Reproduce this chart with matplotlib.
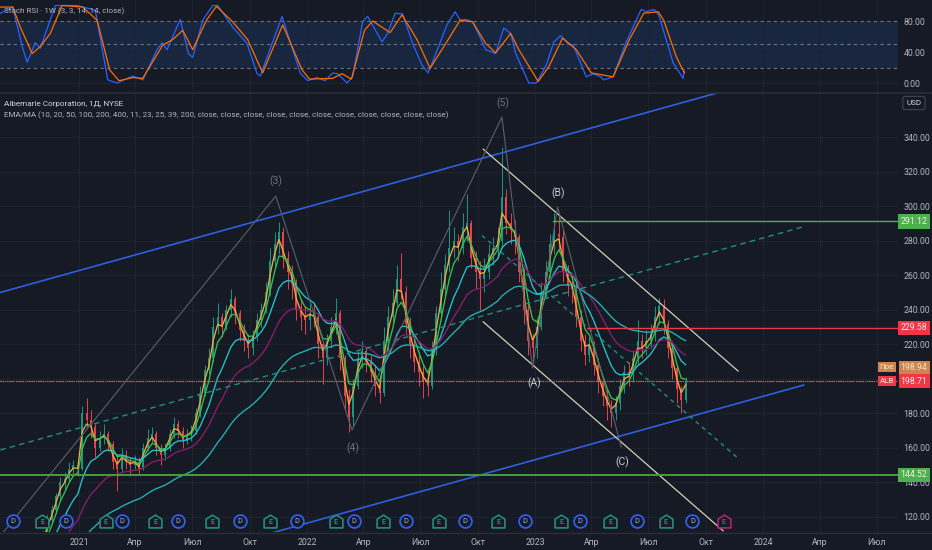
import matplotlib
matplotlib.use("Agg")
import matplotlib.pyplot as plt
import matplotlib.dates as mdates
from matplotlib.transforms import blended_transform_factory
from matplotlib.path import Path
import numpy as np
import pandas as pd

plt.rcParams['font.family'] = ['Roboto', 'DejaVu Sans']

# ---------------- data ----------------
# weekly closes before the visible range (only used for EMA warm-up), from 2020-01-03
warm_closes = [72, 74, 76, 72, 70, 78, 80, 82, 76, 68, 60, 52, 56, 58, 62, 60, 62,
               62, 64, 60, 66, 62, 72, 74, 78, 78, 80, 82, 84, 86, 82, 88, 92, 94, 96,
               92, 90, 88, 90]
# weekly candles from 2020-10-02 (Fridays)
closes = [96, 100, 102, 98, 96, 110, 118, 124, 132, 140, 142, 148, 150,
          148, 180, 176, 172, 160, 166, 168, 162, 152, 148, 156, 152, 150, 152, 148, 160, 166, 168,
          160, 156, 160, 168, 174, 170, 164, 168, 170, 180, 192, 205, 212, 230, 236, 230, 240,
          246, 238, 228, 222, 218, 225, 234, 240, 250, 268, 278, 285, 270, 262, 255, 240, 236, 234,
          238, 236, 220, 212, 222, 230, 238, 212, 190, 178, 196, 212, 216, 210, 204, 196, 192,
          222, 236, 244, 258, 250, 232, 220, 210, 204, 198, 196, 218, 238, 252, 266, 276, 280,
          276, 288, 290, 270, 262, 258, 262, 272, 276, 280, 305, 290, 286, 282, 262, 240, 222, 218,
          230, 250, 262, 278, 284, 282, 262, 254, 252, 236, 222, 214, 220, 208, 198, 190, 184,
          180, 186, 196, 204, 202, 212, 222, 218, 222, 226, 236, 242, 232, 218, 206, 194, 188, 198.71]
highs = [98, 102, 105, 104, 100, 112, 121, 127, 134, 143, 146, 152, 153,
         152, 184, 189, 182, 174, 170, 174, 170, 164, 156, 160, 159, 155, 156, 155, 163, 171, 172,
         170, 162, 163, 171, 178, 176, 172, 171, 173, 183, 196, 208, 218, 236, 244, 238, 243,
         252, 248, 240, 232, 226, 228, 238, 244, 256, 276, 285, 291, 288, 274, 266, 258, 246, 242,
         246, 244, 238, 222, 226, 236, 247, 240, 214, 194, 200, 216, 222, 218, 214, 208, 200,
         230, 242, 252, 266, 273, 254, 236, 224, 214, 208, 204, 222, 242, 262, 272, 298, 288,
         284, 296, 307, 292, 274, 268, 270, 278, 282, 288, 334, 310, 296, 292, 284, 264, 244, 226,
         234, 256, 268, 284, 296, 294, 286, 266, 260, 256, 240, 226, 224, 222, 212, 200, 194,
         188, 190, 200, 208, 210, 216, 234, 226, 228, 232, 242, 247, 246, 234, 222, 208, 196, 201]
lows = [89, 94, 98, 96, 92, 95, 108, 116, 122, 130, 136, 140, 145,
        144, 147, 172, 166, 155, 158, 162, 158, 148, 135, 146, 148, 145, 148, 145, 147, 158, 163,
        156, 150, 153, 158, 166, 166, 160, 162, 164, 168, 178, 190, 203, 210, 226, 224, 228,
        236, 232, 222, 216, 212, 214, 222, 230, 238, 248, 264, 272, 264, 252, 246, 234, 228, 226,
        228, 230, 212, 197, 208, 218, 226, 205, 182, 169, 172, 194, 206, 204, 198, 190, 186,
        190, 216, 232, 242, 246, 226, 212, 204, 196, 189, 190, 194, 214, 234, 248, 262, 270,
        268, 272, 280, 264, 252, 240, 250, 258, 266, 270, 276, 284, 278, 272, 256, 232, 214, 209,
        212, 228, 246, 258, 272, 274, 256, 248, 244, 230, 216, 208, 210, 202, 192, 184, 176,
        172, 176, 182, 192, 196, 198, 208, 212, 214, 218, 222, 232, 226, 212, 200, 186, 180, 186]

ema_spans_weeks = [2, 4, 10, 20, 40]   # EMA 10/20/50/100/200 days on weekly bars
ema_colors = ['#f2a93b', '#33c24d', '#27c4cf', '#8a1d6a', '#1fb7b3']

# Stoch RSI (1W) vertices
k_dates = ['2020-08-28', '2020-09-17', '2020-10-02', '2020-10-10', '2020-10-23', '2020-10-31',
           '2020-11-24', '2020-12-29', '2021-01-27', '2021-02-16', '2021-03-03', '2021-03-28',
           '2021-04-13', '2021-05-06', '2021-05-14', '2021-05-22', '2021-06-12', '2021-06-25',
           '2021-07-02', '2021-07-18', '2021-08-03', '2021-08-11', '2021-09-04', '2021-09-27',
           '2021-10-13', '2021-10-18', '2021-11-22', '2021-12-21', '2022-01-02', '2022-01-17',
           '2022-01-30', '2022-02-11', '2022-02-19', '2022-03-06', '2022-03-15', '2022-03-31',
           '2022-04-08', '2022-05-01', '2022-05-10', '2022-05-22', '2022-06-03', '2022-06-19',
           '2022-07-04', '2022-07-14', '2022-08-13', '2022-08-26', '2022-09-03', '2022-09-12',
           '2022-09-23', '2022-10-02', '2022-10-14', '2022-10-30', '2022-11-12', '2022-11-23',
           '2022-12-01', '2022-12-22', '2023-01-03', '2023-01-19', '2023-01-31', '2023-02-11',
           '2023-02-23', '2023-03-03', '2023-03-24', '2023-04-04', '2023-04-16', '2023-04-21',
           '2023-05-06', '2023-05-27', '2023-06-20', '2023-06-28', '2023-07-10', '2023-07-18',
           '2023-08-10', '2023-08-26', '2023-08-28']
k_vals = [90, 98, 47, 27, 52, 45, 100, 100, 94, 4, 0, 9, 4, 43, 52, 43, 82, 38, 33, 81, 100, 100,
          72, 51, 12, 9, 86, 13, 3, 7, 3, 13, 12, 0, 8, 79, 86, 53, 64, 90, 89, 51, 23, 13, 75,
          92, 81, 82, 79, 64, 43, 38, 71, 64, 38, 0, 0, 23, 53, 61, 51, 49, 8, 12, 8, 4, 8, 53,
          95, 92, 95, 88, 26, 6, 17]
d_dates = ['2020-08-28', '2020-09-17', '2020-09-29', '2020-10-18', '2020-10-31', '2020-11-16',
           '2020-12-05', '2021-01-07', '2021-01-30', '2021-02-19', '2021-03-06', '2021-03-28',
           '2021-04-13', '2021-05-15', '2021-05-31', '2021-06-16', '2021-07-02', '2021-07-24',
           '2021-08-09', '2021-09-04', '2021-09-28', '2021-10-22', '2021-11-23', '2021-12-24',
           '2022-01-05', '2022-02-11', '2022-02-26', '2022-03-13', '2022-04-03', '2022-04-16',
           '2022-05-14', '2022-06-02', '2022-06-26', '2022-07-17', '2022-08-18', '2022-09-03',
           '2022-09-12', '2022-09-23', '2022-10-14', '2022-10-30', '2022-11-23', '2022-12-06',
           '2023-01-06', '2023-01-23', '2023-02-14', '2023-03-08', '2023-04-01', '2023-05-06',
           '2023-06-01', '2023-06-24', '2023-07-17', '2023-07-26', '2023-08-15', '2023-08-28']
d_vals = [98, 98, 72, 38, 47, 64, 100, 98, 81, 17, 3, 7, 6, 49, 56, 68, 43, 81, 99, 79, 56, 13,
          75, 17, 5, 6, 12, 5, 68, 80, 65, 88, 56, 19, 60, 81, 80, 79, 51, 39, 64, 43, 2, 21,
          58, 43, 13, 8, 56, 90, 92, 81, 34, 13]

# drawings (date, price)
channel_upper = [('2020-08-28', 250.0), ('2023-10-26', 366.2)]
channel_lower = [('2021-11-03', 110.5), ('2024-03-06', 196.4)]
trend_dashed_up = [('2020-08-28', 158.8), ('2024-03-05', 288.0)]
trend_dashed_down = [('2022-10-08', 283.0), ('2023-11-22', 154.0)]
down_channel_top = [('2022-10-10', 333.0), ('2023-11-22', 204.5)]
down_channel_bottom = [('2022-10-10', 233.0), ('2023-10-29', 112.0)]
wave_path = [('2020-08-28', 109.0), ('2021-11-12', 305.8), ('2022-03-14', 170.3),
             ('2022-11-09', 351.6), ('2022-12-28', 206.2), ('2023-02-06', 299.5),
             ('2023-05-19', 160.5)]
wave_labels = ['(3)', '(4)', '(5)', '(A)', '(B)', '(C)']
wave_label_pos = [('2021-11-12', 314.5), ('2022-03-15', 160.0), ('2022-11-10', 359.7),
                  ('2022-12-30', 197.6), ('2023-02-07', 307.6), ('2023-05-20', 151.8)]

level_green_top = 291.12
level_green_top_start = '2023-01-29'
level_red = 229.58
level_red_start = '2023-03-25'
level_green_low = 144.52
last_price = 198.71
pre_price = 198.94

div_dates = ['2020-09-17', '2020-12-11', '2021-03-11', '2021-06-08', '2021-09-16', '2021-12-16',
             '2022-03-17', '2022-06-08', '2022-09-11', '2022-12-16', '2023-03-14', '2023-06-13',
             '2023-09-10']
earn_dates = ['2020-11-03', '2021-02-13', '2021-05-03', '2021-08-02', '2021-11-03', '2022-02-16',
              '2022-05-03', '2022-07-31', '2022-11-03', '2023-02-12', '2023-05-01', '2023-07-29']
earn_future = ['2023-10-30']

price_ticks = [120, 140, 160, 180, 200, 220, 240, 260, 280, 300, 320, 340]
hidden_tick = 200   # covered by the last-price labels in the reference
stoch_ticks = [0, 40, 80]
x_tick_dates = ['2021-01-01', '2021-04-01', '2021-07-01', '2021-10-01', '2022-01-01', '2022-04-01',
                '2022-07-01', '2022-10-01', '2023-01-01', '2023-04-01', '2023-07-01', '2023-10-01',
                '2024-01-01', '2024-04-01', '2024-07-01']
x_tick_labels = ['2021', 'Апр', 'Июл', 'Окт', '2022', 'Апр', 'Июл', 'Окт', '2023', 'Апр', 'Июл',
                 'Окт', '2024', 'Апр', 'Июл']

# ---------------- style ----------------
BG = '#161a25'
GRID = '#1f2330'
TXT = '#b2b5be'
UP = '#1a9683'
DN = '#e5424e'

W, H = 932, 550
fig = plt.figure(figsize=(W / 100, H / 100), dpi=100, facecolor=BG)


def px_axes(x0, y0, x1, y1):
    return fig.add_axes([x0 / W, 1 - y1 / H, (x1 - x0) / W, (y1 - y0) / H])


ax_s = px_axes(0, 0, 898, 92)
ax = px_axes(0, 93, 898, 532)

d2n = lambda s: mdates.date2num(pd.Timestamp(s))
x_start = d2n('2020-08-27') + 0.5
xlim = (x_start, x_start + 898 / 0.6247)

for a in (ax_s, ax):
    a.set_facecolor(BG)
    for sp in a.spines.values():
        sp.set_visible(False)
    a.set_xlim(*xlim)
    a.set_xticks([d2n(d) for d in x_tick_dates])
    a.grid(True, color=GRID, lw=0.8, zorder=0)
    a.set_axisbelow(True)
    a.yaxis.tick_right()
    a.tick_params(axis='both', length=0, labelsize=6.3, labelcolor=TXT)

ax_s.set_xticklabels([])
ax.set_xticklabels(x_tick_labels)
ax.tick_params(axis='x', pad=4)
ax.tick_params(axis='y', pad=4)
ax_s.tick_params(axis='y', pad=4)

# ---------------- Stoch RSI ----------------
ax_s.set_ylim(-11.6, 107.1)
ax_s.set_yticks(stoch_ticks)
ax_s.set_yticklabels([f'{v:.2f}' for v in stoch_ticks])
ax_s.axhspan(20, 80, color='#18273f', zorder=0.5, lw=0)
for lvl in (80, 50, 20):
    ax_s.axhline(lvl, color='#6f7380', lw=0.8, dashes=(3, 3), zorder=1)
ax_s.plot([d2n(d) for d in k_dates], k_vals, color='#2962ff', lw=0.9, zorder=3)
ax_s.plot([d2n(d) for d in d_dates], d_vals, color='#ff6d00', lw=0.9, zorder=3)
fig.text(4 / W, 1 - 11 / H, 'Stoch RSI · 1W (3, 3, 14, 14, close)', color=TXT,
         fontsize=5.8, va='center', ha='left')
fig.add_artist(plt.Line2D([0, 1], [1 - 92.5 / H, 1 - 92.5 / H], color='#2a2e39', lw=1.2))

# ---------------- main price ----------------
ax.set_ylim(111.3, 365.5)
ax.set_yticks(price_ticks)
ax.set_yticklabels(['' if v == hidden_tick else f'{v:.2f}' for v in price_ticks])

dates = pd.date_range('2020-10-02', periods=len(closes), freq='W-FRI')
xs = mdates.date2num(dates) - 2
opens = np.array([warm_closes[-1]] + closes[:-1], dtype=float)
c = np.array(closes, dtype=float)
hi = np.maximum(np.array(highs, float), np.maximum(opens, c))
lo = np.minimum(np.array(lows, float), np.minimum(opens, c))
cols = [UP if cc >= oo else DN for oo, cc in zip(opens, c)]
ax.vlines(xs, lo, hi, colors=cols, lw=0.7, zorder=2)
body_lo = np.minimum(opens, c)
body_h = np.maximum(np.abs(c - opens), 0.6)
ax.bar(xs, body_h, bottom=body_lo, width=3.2, color=cols, lw=0, zorder=2)

all_close = pd.Series(warm_closes + closes, dtype=float)
all_dates = pd.date_range('2020-01-03', periods=len(all_close), freq='W-FRI')
all_x = mdates.date2num(all_dates) - 2
for span, col in zip(ema_spans_weeks, ema_colors):
    e = all_close.ewm(span=span, adjust=False).mean()
    ax.plot(all_x, e.values, color=col, lw=0.95, zorder=3)


def seg(pts):
    return [d2n(d) for d, _ in pts], [p for _, p in pts]


xx, yy = seg(channel_upper); ax.plot(xx, yy, color='#2d5fe0', lw=1.2, zorder=4)
xx, yy = seg(channel_lower); ax.plot(xx, yy, color='#2d5fe0', lw=1.2, zorder=4)
xx, yy = seg(trend_dashed_up); ax.plot(xx, yy, color='#1f8f7f', lw=1.0, dashes=(4, 3), zorder=4)
xx, yy = seg(trend_dashed_down); ax.plot(xx, yy, color='#1f8f7f', lw=1.0, dashes=(3, 3), zorder=4)
xx, yy = seg(down_channel_top); ax.plot(xx, yy, color='#d6d0b6', lw=0.9, zorder=4)
xx, yy = seg(down_channel_bottom); ax.plot(xx, yy, color='#d6d0b6', lw=0.9, zorder=4)
xx, yy = seg(wave_path); ax.plot(xx, yy, color='#5b5f6b', lw=0.8, zorder=4)
for lab, (d, p) in zip(wave_labels, wave_label_pos):
    col = '#6e717c' if lab in ('(3)', '(4)', '(5)') else '#c9cbd1'
    ax.text(d2n(d), p, lab, color=col, fontsize=7.5, ha='center', va='center', zorder=5)

ax.plot([d2n(level_green_top_start), xlim[1]], [level_green_top] * 2, color='#4caf50', lw=1.0, zorder=4)
ax.plot([d2n(level_red_start), xlim[1]], [level_red] * 2, color='#f23645', lw=1.0, zorder=4)
ax.axhline(level_green_low, color='#4a9a45', lw=1.4, zorder=4)
ax.axhline(pre_price, color='#c9a0a8', lw=0.8, dashes=(1, 1), zorder=4)
ax.axhline(last_price, color='#d8505e', lw=0.8, dashes=(1, 1), zorder=4)

# event icons
ev = blended_transform_factory(ax.transData, ax.transAxes)
house = Path([(-1, -1), (1, -1), (1, 0.35), (0, 1), (-1, 0.35), (-1, -1)],
             [Path.MOVETO, Path.LINETO, Path.LINETO, Path.LINETO, Path.LINETO, Path.CLOSEPOLY])
dx = [d2n(d) for d in div_dates]
ex = [d2n(d) for d in earn_dates]
fx = [d2n(d) for d in earn_future]
ax.scatter(dx, [0.025] * len(dx), s=85, marker='o', facecolor=BG, edgecolor='#2f5fe8', lw=1.3,
           transform=ev, zorder=6, clip_on=False)
ax.scatter(ex, [0.025] * len(ex), s=85, marker=house, facecolor=BG, edgecolor='#1f8f7a', lw=1.2,
           transform=ev, zorder=6, clip_on=False)
ax.scatter(fx, [0.025] * len(fx), s=85, marker=house, facecolor=BG, edgecolor='#b0207a', lw=1.2,
           transform=ev, zorder=6, clip_on=False)
for x in dx:
    ax.text(x, 0.025, 'D', color='#8fb0ff', fontsize=5.4, ha='center', va='center', transform=ev, zorder=7)
for x in ex:
    ax.text(x, 0.022, 'E', color='#35b59b', fontsize=5.2, ha='center', va='center', transform=ev, zorder=7)
for x in fx:
    ax.text(x, 0.022, 'E', color='#d64fa0', fontsize=5.2, ha='center', va='center', transform=ev, zorder=7)

# legend texts
fig.text(4 / W, 1 - 104 / H, 'Albemarle Corporation, 1Д, NYSE', color='#d1d4dc', fontsize=5.9,
         va='center', ha='left')
fig.text(4 / W, 1 - 115.5 / H,
         'EMA/MA (10, 20, 50, 100, 200, 400, 11, 23, 25, 39, 200, close, close, close, close, close, '
         'close, close, close, close, close, close)', color=TXT, fontsize=5.8, va='center', ha='left')
fig.text(914 / W, 1 - 103 / H, 'USD', color='#d1d4dc', fontsize=5.8, va='center', ha='center',
         bbox=dict(boxstyle='round,pad=0.45,rounding_size=0.3', fc=BG, ec='#434651', lw=0.8))

# right-side price labels
tr = blended_transform_factory(ax.transAxes, ax.transData)
lab_kw = dict(transform=tr, ha='left', va='center', fontsize=6.3, clip_on=False, zorder=10)
ax.text(1.003, level_green_top, f'{level_green_top:.2f}', color='#f4f4dc',
        bbox=dict(boxstyle='square,pad=0.3', fc='#4caf50', ec='none'), **lab_kw)
ax.text(1.003, level_red, f'{level_red:.2f}', color='#fbe9e9',
        bbox=dict(boxstyle='square,pad=0.3', fc='#f23645', ec='none'), **lab_kw)
ax.text(1.003, level_green_low, f'{level_green_low:.2f}', color='#f4f4dc',
        bbox=dict(boxstyle='square,pad=0.3', fc='#4caf50', ec='none'), **lab_kw)
ax.text(1.003, last_price, f'{last_price:.2f}', color='#fbe9e9',
        bbox=dict(boxstyle='square,pad=0.25', fc='#f23645', ec='none'), **lab_kw)
ax.annotate(f'{pre_price:.2f}', xy=(1.003, pre_price), xycoords=tr, xytext=(0, 9.5),
            textcoords='offset points', color='#f4e6c8', fontsize=6.3, ha='left', va='center',
            annotation_clip=False, zorder=10,
            bbox=dict(boxstyle='square,pad=0.25', fc='#cc8450', ec='none'))
ax.annotate('Пре', xy=(1.0, pre_price), xycoords=tr, xytext=(-8, 9.5),
            textcoords='offset points', color='#f4e6c8', fontsize=5.8, ha='center', va='center',
            annotation_clip=False, zorder=10,
            bbox=dict(boxstyle='square,pad=0.25', fc='#cc8450', ec='none'))
ax.annotate('ALB', xy=(1.0, last_price), xycoords=tr, xytext=(-8, 0),
            textcoords='offset points', color='#fbe9e9', fontsize=5.8, ha='center', va='center',
            annotation_clip=False, zorder=10,
            bbox=dict(boxstyle='square,pad=0.25', fc='#f23645', ec='none'))

fig.add_artist(plt.Line2D([0, 1], [1 - 532.5 / H, 1 - 532.5 / H], color='#2a2e39', lw=1.0))

fig.savefig('out.png', dpi=100, facecolor=BG)
